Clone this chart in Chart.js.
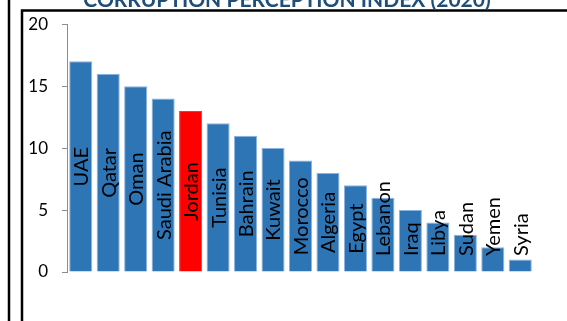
<!DOCTYPE html>
<html>
<head>
<meta charset="utf-8">
<script src="https://cdn.jsdelivr.net/npm/chart.js@4/dist/chart.umd.min.js"></script>
<style>
  html, body { margin: 0; padding: 0; background: #ffffff; }
  #wrap { position: relative; width: 567px; height: 321px; overflow: hidden; }
</style>
</head>
<body>
<div id="wrap"><canvas id="cpi" width="567" height="321"></canvas></div>
<script>
// Corruption Perception Index (2020), Arab countries
const countries = ['UAE', 'Qatar', 'Oman', 'Saudi Arabia', 'Jordan', 'Tunisia', 'Bahrain', 'Kuwait',
  'Morocco', 'Algeria', 'Egypt', 'Lebanon', 'Iraq', 'Libya', 'Sudan', 'Yemen', 'Syria'];
const scores = [17, 16, 15, 14, 13, 12, 11, 10, 9, 8, 7, 6, 5, 4, 3, 2, 1];
const highlighted = 'Jordan';
const yMin = 0, yMax = 20, yStep = 5;
const chartTitle = 'CORRUPTION PERCEPTION INDEX (2020)';

const barBlue = '#2E75B6';
const barRed = '#FF0000';

// Page frame and the heading that sits above the chart box
const framePlugin = {
  id: 'frame',
  beforeDraw(chart) {
    const ctx = chart.ctx;
    ctx.save();
    ctx.fillStyle = '#ffffff';
    ctx.fillRect(0, 0, chart.width, chart.height);
    ctx.strokeStyle = '#000000';
    ctx.lineWidth = 2.5;
    ctx.beginPath();
    ctx.moveTo(9, 0); ctx.lineTo(9, chart.height);
    ctx.moveTo(22, chart.height); ctx.lineTo(22, 10.5); ctx.lineTo(chart.width, 10.5);
    ctx.stroke();
    ctx.restore();
  },
  afterDraw(chart) {
    const ctx = chart.ctx;
    ctx.save();
    ctx.fillStyle = '#1F4E79';
    ctx.font = 'bold 21px Lato';
    ctx.textAlign = 'center';
    ctx.textBaseline = 'alphabetic';
    ctx.fillText(chartTitle, 287, 7);
    ctx.restore();
  }
};

// Country names written up the inside of each bar
const barLabelPlugin = {
  id: 'barLabels',
  afterDatasetsDraw(chart) {
    const ctx = chart.ctx;
    const meta = chart.getDatasetMeta(0);
    const base = chart.scales.y.getPixelForValue(0);
    ctx.save();
    ctx.font = '20px Lato';
    ctx.fillStyle = '#000000';
    ctx.textAlign = 'center';
    ctx.textBaseline = 'middle';
    meta.data.forEach((bar, i) => {
      const text = countries[i];
      const w = ctx.measureText(text).width;
      let cy = (bar.y + base) / 2;
      const lowest = base - 16 - w / 2;
      if (cy > lowest) cy = lowest;
      ctx.save();
      ctx.translate(bar.x + 1, cy);
      ctx.rotate(-Math.PI / 2);
      ctx.fillText(text, 0, 0);
      ctx.restore();
    });
    ctx.restore();
  }
};

new Chart(document.getElementById('cpi'), {
  type: 'bar',
  data: {
    labels: countries,
    datasets: [{
      data: scores,
      backgroundColor: countries.map(c => c === highlighted ? barRed : barBlue),
      borderColor: countries.map(c => c === highlighted ? '#FF3030' : '#8DB4E0'),
      borderWidth: { top: 1, left: 1, right: 1, bottom: 0 },
      borderSkipped: 'bottom',
      barPercentage: 0.84,
      categoryPercentage: 1.0
    }]
  },
  options: {
    responsive: false,
    animation: false,
    devicePixelRatio: 1,
    layout: { padding: { left: 0, right: 33, top: 24, bottom: 49 } },
    plugins: {
      legend: { display: false },
      title: { display: false },
      tooltip: { enabled: false }
    },
    scales: {
      x: { display: false },
      y: {
        min: yMin,
        max: yMax,
        ticks: {
          stepSize: yStep,
          padding: 14,
          color: '#000000',
          font: { family: 'Lato', size: 17 }
        },
        grid: {
          drawOnChartArea: false,
          drawTicks: true,
          tickLength: 5,
          color: '#8C8C8C'
        },
        border: { display: true, color: '#8C8C8C', width: 1 },
        afterFit(scale) { scale.width = 67; }
      }
    }
  },
  plugins: [framePlugin, barLabelPlugin]
});
</script>
</body>
</html>
